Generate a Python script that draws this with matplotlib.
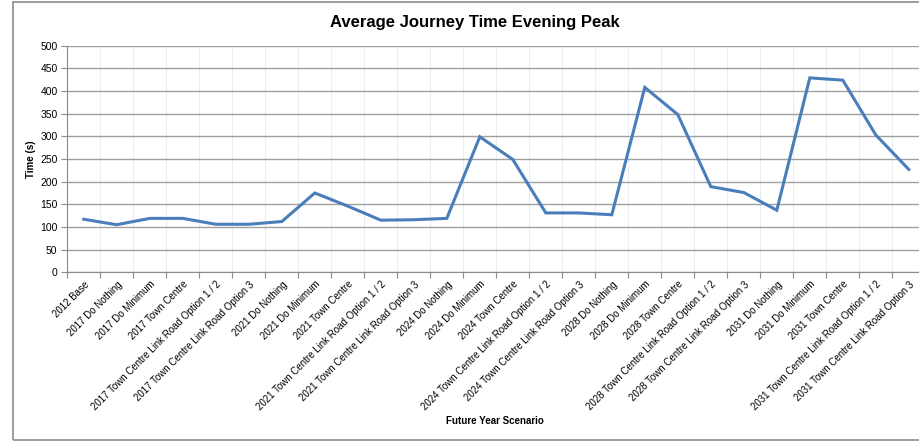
import matplotlib
matplotlib.use("Agg")
import matplotlib.pyplot as plt
from matplotlib.patches import Rectangle
from matplotlib.ticker import FixedLocator, NullFormatter

plt.rcParams['font.family'] = ['Liberation Sans', 'DejaVu Sans']

# scenario names (x categories)
scenarios = [
    "2012 Base",
    "2017 Do Nothing",
    "2017 Do Minimum",
    "2017 Town Centre",
    "2017 Town Centre Link Road Option 1 / 2",
    "2017 Town Centre Link Road Option 3",
    "2021 Do Nothing",
    "2021 Do Minimum",
    "2021 Town Centre",
    "2021 Town Centre Link Road Option 1 / 2",
    "2021 Town Centre Link Road Option 3",
    "2024 Do Nothing",
    "2024 Do Minimum",
    "2024 Town Centre",
    "2024 Town Centre Link Road Option 1 / 2",
    "2024 Town Centre Link Road Option 3",
    "2028 Do Nothing",
    "2028 Do Minimum",
    "2028 Town Centre",
    "2028 Town Centre Link Road Option 1 / 2",
    "2028 Town Centre Link Road Option 3",
    "2031 Do Nothing",
    "2031 Do Minimum",
    "2031 Town Centre",
    "2031 Town Centre Link Road Option 1 / 2",
    "2031 Town Centre Link Road Option 3",
]

# average journey time (s)
journey_time = [117, 105, 119, 119, 106, 106, 112, 175, 146, 115, 116, 119,
                299, 249, 131, 131, 127, 408, 348, 189, 176, 137, 429, 424,
                303, 227]

y_ticks = [0, 50, 100, 150, 200, 250, 300, 350, 400, 450, 500]

W, H = 919, 446
fig = plt.figure(figsize=(W / 100, H / 100), dpi=100)

# chart border (right side is cropped in the original)
fig.patches.append(Rectangle((13 / W, 1 - 440 / H), 1.0, (440 - 2) / H,
                             transform=fig.transFigure, fill=False,
                             edgecolor='#8c8c8c', linewidth=1.2))

ax = fig.add_axes([67.3 / W, 1 - 272.3 / H, (W - 67.3) / W, (272.3 - 45.7) / H])

n = len(scenarios)
xs = list(range(n))
ax.plot(xs, journey_time, color='#4a7ebb', linewidth=2.2, solid_joinstyle='miter')

ax.set_xlim(-0.5, -0.5 + (W - 67.3) / 33.0)
ax.set_ylim(0, 500)
ax.set_yticks(y_ticks)

# category boundaries carry ticks and light vertical grid
bounds = [i - 0.5 for i in range(n + 1)]
ax.xaxis.set_major_locator(FixedLocator(bounds))
ax.xaxis.set_major_formatter(NullFormatter())
ax.xaxis.set_minor_locator(FixedLocator(xs))
ax.set_xticklabels(scenarios, minor=True, rotation=45, ha='right',
                   rotation_mode='anchor', fontsize=7)
ax.tick_params(axis='x', which='minor', length=0, pad=5)
ax.tick_params(axis='x', which='major', length=4, color='#8c8c8c')
ax.tick_params(axis='y', length=4, color='#8c8c8c', labelsize=7.5, pad=3)

ax.grid(axis='y', color='#a0a0a0', linewidth=1)
ax.grid(axis='x', which='major', color='#e8eef7', linewidth=0.8)
ax.set_axisbelow(True)

for side in ['top', 'right']:
    ax.spines[side].set_visible(False)
ax.spines['left'].set_color('#8c8c8c')
ax.spines['bottom'].set_color('#8c8c8c')

ax.set_ylabel('Time (s)', fontsize=7, fontweight='bold', labelpad=3)
fig.text(495 / W, 1 - 421 / H, 'Future Year Scenario', fontsize=7,
         fontweight='bold', ha='center', va='center')
fig.text(475 / W, 1 - 22 / H, 'Average Journey Time Evening Peak', fontsize=12,
         fontweight='bold', ha='center', va='center')

fig.savefig('out.png', dpi=100)
